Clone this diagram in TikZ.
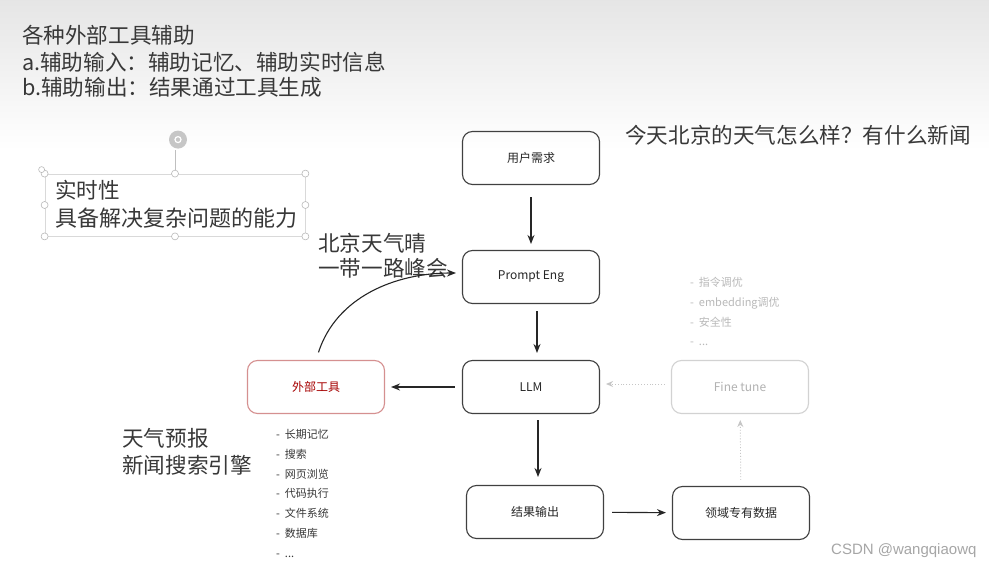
\documentclass[tikz,border=0pt]{standalone}
\usepackage{fontspec}
\setmainfont{Noto Sans CJK SC}
\newfontfamily\wmfont{Liberation Sans}
\usetikzlibrary{arrows.meta,positioning}

\begin{document}
\begin{tikzpicture}[x=1pt,y=-1pt,
  box/.style={draw=black!75,line width=1.1pt,rounded corners=10pt,minimum width=137pt,minimum height=53pt,font=\fontsize{12}{14}\selectfont,text=black!85},
  arr/.style={-{Stealth[length=9pt,width=7pt]},line width=1.1pt,black!85},
  dots/.style={-{Stealth[length=7pt,width=6pt]},gray!45,line width=0.9pt,dotted},
  big/.style={font=\fontsize{21.6}{26}\selectfont,text=black!78,anchor=west,inner sep=0pt},
  item/.style={font=\fontsize{11}{19.8}\selectfont,align=left,anchor=north west,inner sep=0pt},
  handle/.style={draw=gray!55,fill=white,line width=0.6pt}]
 \useasboundingbox (0,0) rectangle (989,570);
 \fill[white] (0,0) rectangle (989,570);
 \shade[top color=gray!20,bottom color=white] (0,0) rectangle (989,150);
 % notes at the top
 \node[big] (title) at (22,35) {各种外部工具辅助};
 \node[big] (ina) at (22,62) {a.辅助输入：辅助记忆、辅助实时信息};
 \node[big] (outb) at (22,87) {b.辅助输出：结果通过工具生成};
 % selected text box
 \node[draw=gray!30,line width=0.8pt,minimum width=260pt,minimum height=62pt,inner sep=0pt] (sel) at (175,205) {};
 \draw[gray!50,line width=0.8pt] (sel.north) -- ++(0,-24) coordinate (rot);
 \fill[gray!45] ([shift={(3,-10)}]rot) circle (9pt);
 \draw[white,line width=1.2pt] ([shift={(3,-10)}]rot) circle (3pt);
 \foreach \a in {north west,north,north east,west,east,south west,south,south east}
  \draw[handle] (sel.\a) circle (3.5pt);
 \draw[handle] ([shift={(-3,-4)}]sel.north west) circle (3pt);
 \node[big] (rt) at (55,190) {实时性};
 \node[big,font=\fontsize{22}{26}\selectfont] (ability) at (55,218) {具备解决复杂问题的能力};
 \node[big] (weather) at (318,243) {北京天气晴};
 \node[big] (summit) at (318,268) {一带一路峰会};
 \node[big] (question) at (625,135) {今天北京的天气怎么样？有什么新闻};
 \node[big] (forecast) at (122,438) {天气预报};
 \node[big] (search) at (122,465) {新闻搜索引擎};
 % flow
 \node[box] (user) at (531,158) {用户需求};
 \node[box] (prompt) at (531,277) {Prompt Eng};
 \node[box] (llm) at (531,387) {LLM};
 \node[box] (result) at (535,512) {结果输出};
 \node[box] (domain) at (741,513) {领域专有数据};
 \node[box,draw=gray!35,text=gray!60] (fine) at (740,387) {Fine tune};
 \node[box,draw=red!45!gray!60,text=red!65!black] (tool) at (316,387) {外部工具};
 \draw[arr,shorten <=12pt,shorten >=6pt] (user) -- (prompt);
 \draw[arr,shorten <=7pt,shorten >=7pt] ([xshift=6pt]prompt.south) -- ([xshift=6pt]llm.north);
 \draw[arr,shorten <=6pt,shorten >=8pt] ([xshift=7pt]llm.south) -- ([xshift=3pt]result.north);
 \draw[arr,shorten <=8pt,shorten >=6pt] (result) -- (domain);
 \draw[dots,shorten <=6pt,shorten >=6pt] (domain) -- (fine);
 \draw[dots,shorten <=6pt,shorten >=6pt] ([yshift=3pt]fine.west) -- ([yshift=3pt]llm.east);
 \draw[arr,shorten <=8pt,shorten >=6pt] (tool.north) to[out=72,in=180] ([yshift=4pt]prompt.west);
 \draw[arr,shorten <=7pt,shorten >=6pt] (llm) -- (tool);
 % lists
 \node[item,text=black!78] (toollist) at (276,429) {- \ 长期记忆\\- \ 搜索\\- \ 网页浏览\\- \ 代码执行\\- \ 文件系统\\- \ 数据库\\- \ ...};
 \node[item,text=gray!55] (finelist) at (690,277) {- \ 指令调优\\- \ embedding调优\\- \ 安全性\\- \ ...};
 \node[anchor=east,font=\wmfont\fontsize{15}{18}\selectfont,text=gray!70] (mark) at (980,551) {CSDN @wangqiaowq};
\end{tikzpicture}
\end{document}
